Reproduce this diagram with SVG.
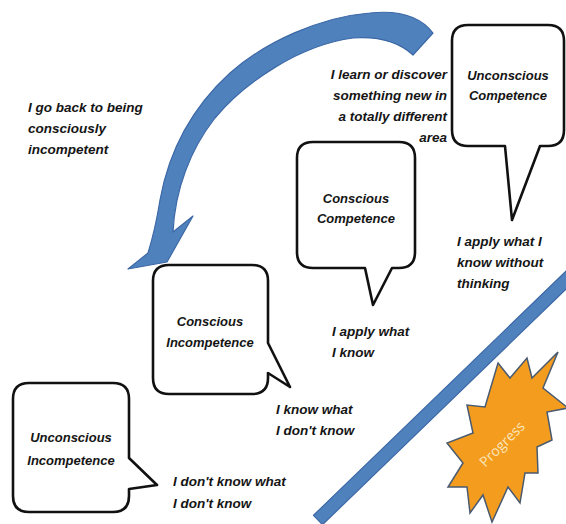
<svg xmlns="http://www.w3.org/2000/svg" width="566" height="524" viewBox="0 0 566 524">
  <style>
    .bubble { fill: #ffffff; stroke: #111111; stroke-width: 2.6; stroke-linejoin: round; }
    .title { font-family: "Liberation Sans", Arial, sans-serif; font-weight: bold; font-style: italic; font-size: 13px; fill: #151515; text-anchor: middle; }
    .note { font-family: "Liberation Sans", Arial, sans-serif; font-weight: bold; font-style: italic; font-size: 13.5px; fill: #151515; }
    .blue { fill: #4f81bd; stroke: #3c68a6; stroke-width: 1.2; stroke-linejoin: round; }
  </style>

  <!-- connectors: return arrow and progress bar -->
  <g id="connectors">
    <path id="return-arrow" class="blue" d="M 433,33 C 420,16 398,10 370,13 C 320,17 265,42 230,73 C 197,103 170,145 160,200 C 156,225 152,240 148,253 L 128,269 L 167,262 L 193,216 L 173,232 C 175,190 190,150 215,118 C 245,82 300,45 353,38 C 380,36 400,43 413,55 Z"/>
    <polygon id="progress-bar" class="blue" points="313.5,515.3 570.5,266.7 579.5,276.1 322.5,524.7"/>
  </g>

  <!-- Progress starburst -->
  <g id="progress">
    <polygon fill="#f39c1e" stroke="#4a5a70" stroke-width="1.5" stroke-linejoin="miter"
      points="498,363 510,378 527,358 532,378 558,352 543,388 568,408 547,412 552,440 537,447 538,473 525,473 520,503 508,487 492,522 483,495 470,513 467,487 448,487 463,463 447,443 473,433 467,405 485,407"/>
    <text x="502" y="449" transform="rotate(-45 502 444)" font-family="'Open Sans', 'Liberation Sans', sans-serif" font-size="14" fill="#fbe6bd" text-anchor="middle">Progress</text>
  </g>

  <!-- stage 1 -->
  <g id="unconscious-incompetence">
    <path class="bubble" d="M 29,383 H 113 Q 129,383 129,399 V 458 L 157,485 L 129,489 V 496 Q 129,512 113,512 H 29 Q 13,512 13,496 V 399 Q 13,383 29,383 Z"/>
    <text class="title" x="71" y="442">Unconscious</text>
    <text class="title" x="71" y="465">Incompetence</text>
  </g>
  <g id="note-1">
    <text class="note" x="173" y="486">I don't know what</text>
    <text class="note" x="173" y="508">I don't know</text>
  </g>

  <!-- stage 2 -->
  <g id="conscious-incompetence">
    <path class="bubble" d="M 169,265 H 252 Q 268,265 268,281 V 343 L 290,387 L 268,373 V 378 Q 268,394 252,394 H 169 Q 153,394 153,378 V 281 Q 153,265 169,265 Z"/>
    <text class="title" x="210" y="326">Conscious</text>
    <text class="title" x="210" y="347">Incompetence</text>
  </g>
  <g id="note-2">
    <text class="note" x="276" y="414">I know what</text>
    <text class="note" x="276" y="435">I don't know</text>
  </g>

  <!-- stage 3 -->
  <g id="conscious-competence">
    <path class="bubble" d="M 313,142 H 399 Q 415,142 415,158 V 252 Q 415,268 399,268 H 392 L 373,305 L 365,268 H 313 Q 297,268 297,252 V 158 Q 297,142 313,142 Z"/>
    <text class="title" x="356" y="203">Conscious</text>
    <text class="title" x="356" y="223">Competence</text>
  </g>
  <g id="note-3">
    <text class="note" x="332" y="336">I apply what</text>
    <text class="note" x="332" y="357">I know</text>
  </g>

  <!-- stage 4 -->
  <g id="unconscious-competence">
    <path class="bubble" d="M 468,25 H 548 Q 564,25 564,41 V 130 Q 564,146 548,146 H 540 L 512,220 L 505,146 H 468 Q 452,146 452,130 V 41 Q 452,25 468,25 Z"/>
    <text class="title" x="508" y="80">Unconscious</text>
    <text class="title" x="508" y="100">Competence</text>
  </g>
  <g id="note-4">
    <text class="note" x="457" y="246">I apply what I</text>
    <text class="note" x="457" y="267">know without</text>
    <text class="note" x="457" y="288">thinking</text>
  </g>

  <!-- loop back -->
  <g id="note-new-area">
    <text class="note" x="447" y="79" text-anchor="end">I learn or discover</text>
    <text class="note" x="447" y="100" text-anchor="end">something new in</text>
    <text class="note" x="447" y="121" text-anchor="end">a totally different</text>
    <text class="note" x="447" y="142" text-anchor="end">area</text>
  </g>
  <g id="note-back">
    <text class="note" x="28" y="112">I go back to being</text>
    <text class="note" x="28" y="133">consciously</text>
    <text class="note" x="28" y="154">incompetent</text>
  </g>
</svg>
